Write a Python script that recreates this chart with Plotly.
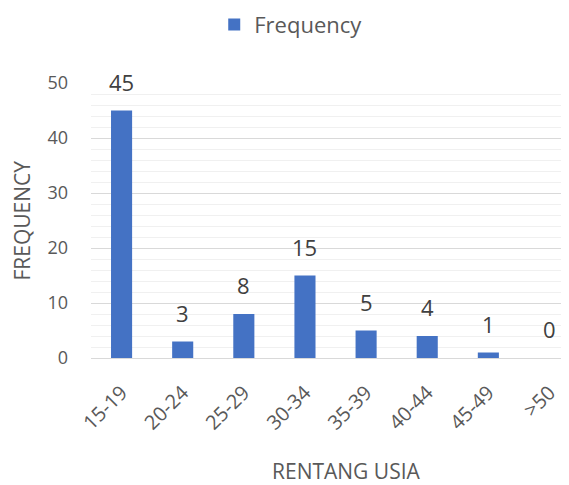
import plotly.graph_objects as go

categories = ["15-19", "20-24", "25-29", "30-34", "35-39", "40-44", "45-49", ">50"]
frequency = [45, 3, 8, 15, 5, 4, 1, 0]
series_name = "Frequency"
y_ticks = [0, 10, 20, 30, 40, 50]

FONT = "Open Sans"
TXT = "#595959"
BLUE = "#4472C4"

fig = go.Figure()
fig.add_trace(go.Bar(
    x=categories, y=frequency, name=series_name,
    marker=dict(color=BLUE, line=dict(width=0)),
    showlegend=True,
))

for c, v in zip(categories, frequency):
    fig.add_annotation(x=c, y=v, text=str(v), showarrow=False,
                       yshift=29, yanchor="middle",
                       font=dict(family=FONT, size=22, color="#404040"))

fig.add_annotation(text="FREQUENCY", xref="paper", yref="paper",
                   x=-0.142, y=0.5, textangle=-90, showarrow=False,
                   xanchor="center", yanchor="middle",
                   font=dict(family=FONT, size=21, color=TXT))
fig.add_annotation(text="RENTANG USIA", xref="paper", yref="paper",
                   x=0.525, y=-0.412, showarrow=False,
                   xanchor="center", yanchor="middle", borderpad=0,
                   font=dict(family=FONT, size=21, color=TXT))

fig.update_layout(
    width=569, height=485,
    margin=dict(l=83, r=0, t=75, b=135, pad=0, autoexpand=False),
    paper_bgcolor="white", plot_bgcolor="white",
    bargap=0.655,
    font=dict(family=FONT, color=TXT),
    legend=dict(orientation="h", x=0.412, y=1.212, xanchor="center", yanchor="middle",
                font=dict(family=FONT, size=22, color=TXT),
                itemwidth=30),
    xaxis=dict(range=[-0.5, 7.45], tickangle=-45, showgrid=False, automargin=False,
               showline=True, linecolor="#d9d9d9", linewidth=1,
               ticks="", ticklabelstandoff=14,
               tickfont=dict(family=FONT, size=20, color=TXT)),
    yaxis=dict(range=[0, 50], tickvals=y_ticks, showline=False, automargin=False,
               gridcolor="#d9d9d9", gridwidth=1, zeroline=False,
               ticks="", ticklabelstandoff=22,
               tickfont=dict(family=FONT, size=18, color=TXT),
               minor=dict(dtick=2, showgrid=True, gridcolor="#f0f0f0", gridwidth=1)),
)

fig.write_html("out.html")
